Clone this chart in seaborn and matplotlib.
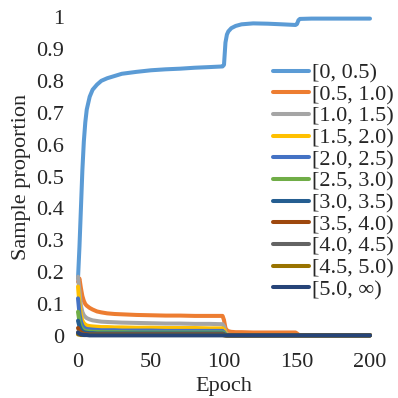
import seaborn as sns
import pandas as pd
import matplotlib.pyplot as plt

epochs = [0, 1, 2, 3, 4, 5, 6, 8, 10, 13, 16, 20, 25, 30, 40, 50, 60, 70, 80, 90, 99,
          100, 101, 102, 103, 105, 108, 112, 120, 130, 140, 149, 150, 151, 152, 160, 180, 200]

labels = ['[0, 0.5)', '[0.5, 1.0)', '[1.0, 1.5)', '[1.5, 2.0)', '[2.0, 2.5)', '[2.5, 3.0)',
          '[3.0, 3.5)', '[3.5, 4.0)', '[4.0, 4.5)', '[4.5, 5.0)', '[5.0, \u221e)']

r0 = [0.18, 0.28, 0.40, 0.52, 0.61, 0.67, 0.71, 0.75, 0.772, 0.788, 0.80, 0.808, 0.815, 0.822,
      0.828, 0.833, 0.836, 0.838, 0.841, 0.843, 0.845, 0.85, 0.92, 0.945, 0.955, 0.965, 0.972, 0.977,
      0.98, 0.979, 0.977, 0.975, 0.978, 0.99, 0.994, 0.995, 0.995, 0.995]
r1 = [0.17, 0.18, 0.15, 0.125, 0.11, 0.10, 0.095, 0.088, 0.083, 0.077, 0.074, 0.071, 0.069, 0.068,
      0.066, 0.065, 0.064, 0.064, 0.063, 0.063, 0.063, 0.05, 0.025, 0.018, 0.015, 0.013, 0.012, 0.012,
      0.011, 0.011, 0.011, 0.011, 0.008, 0.004, 0.003, 0.003, 0.003, 0.003]
r2 = [0.186, 0.14, 0.095, 0.075, 0.065, 0.06, 0.056, 0.052, 0.049, 0.047, 0.045, 0.044, 0.043, 0.042,
      0.041, 0.040, 0.039, 0.039, 0.038, 0.038, 0.037, 0.03, 0.012, 0.006, 0.004, 0.003, 0.003, 0.003,
      0.003, 0.003, 0.003, 0.003, 0.002, 0.002, 0.002, 0.002, 0.002, 0.002]
r3 = [0.155, 0.10, 0.065, 0.048, 0.04, 0.036, 0.033, 0.031, 0.030, 0.029, 0.028, 0.028, 0.027, 0.027,
      0.026, 0.026, 0.025, 0.025, 0.025, 0.024, 0.024, 0.02, 0.008, 0.004, 0.003, 0.002, 0.002, 0.002] + [0.002] * 10
r4 = [0.118, 0.07, 0.045, 0.033, 0.027, 0.024, 0.022, 0.021, 0.020, 0.019, 0.018, 0.018, 0.018, 0.017,
      0.017, 0.017, 0.016, 0.016, 0.016, 0.016, 0.016, 0.012, 0.005, 0.003, 0.002, 0.002, 0.002, 0.002] + [0.002] * 10
r5 = [0.076, 0.045, 0.03, 0.022, 0.018, 0.016, 0.015, 0.014, 0.013, 0.013, 0.012, 0.012, 0.012, 0.012,
      0.011, 0.011, 0.011, 0.011, 0.011, 0.011, 0.011, 0.009, 0.004, 0.002, 0.002, 0.002, 0.002, 0.002] + [0.002] * 10
r6 = [0.048, 0.03, 0.02, 0.015, 0.012, 0.011, 0.01, 0.009, 0.009, 0.008, 0.008, 0.008, 0.008, 0.008,
      0.008, 0.008, 0.008, 0.008, 0.008, 0.008, 0.008, 0.006, 0.003, 0.002, 0.002, 0.002, 0.002, 0.002] + [0.002] * 10
r7 = [0.025, 0.016, 0.011, 0.009, 0.007, 0.006, 0.006] + [0.005] * 14 + [0.004, 0.002] + [0.002] * 15
r8 = [0.012, 0.008, 0.006, 0.005, 0.004, 0.004, 0.004] + [0.004] * 14 + [0.003, 0.002] + [0.002] * 15
r9 = [0.005, 0.004, 0.003] + [0.003] * 18 + [0.002] * 17
r10 = [0.01, 0.007, 0.005, 0.004, 0.003, 0.003, 0.003] + [0.002] * 31

colors = ['#5B9BD5', '#ED7D31', '#A5A5A5', '#FFC000', '#4472C4', '#70AD47',
          '#255E91', '#9E480E', '#636363', '#997300', '#264478']

series = [r0, r1, r2, r3, r4, r5, r6, r7, r8, r9, r10]
rows = []
for lab, vals in zip(labels, series):
    for e, v in zip(epochs, vals):
        rows.append({'Epoch': e, 'Sample proportion': v, 'Range': lab})
df = pd.DataFrame(rows)

sns.set_style('white')
plt.rcParams['font.family'] = ['Liberation Serif', 'DejaVu Serif']
plt.rcParams['font.size'] = 16

fig = plt.figure(figsize=(3.98, 3.98), dpi=100)
ax = fig.add_axes([78 / 398, 62 / 398, 292 / 398, 319 / 398])
sns.lineplot(data=df, x='Epoch', y='Sample proportion', hue='Range', hue_order=labels,
             palette=colors, linewidth=2.9, ax=ax, clip_on=False)

ax.set_xlim(0, 200)
ax.set_ylim(0, 1)
ax.set_xticks([0, 50, 100, 150, 200])
ax.set_yticks([0, 0.1, 0.2, 0.3, 0.4, 0.5, 0.6, 0.7, 0.8, 0.9, 1])
ax.set_yticklabels(['0', '0.1', '0.2', '0.3', '0.4', '0.5', '0.6', '0.7', '0.8', '0.9', '1'])
ax.tick_params(axis='both', length=0, labelsize=16)
ax.tick_params(axis='y', pad=10)
ax.tick_params(axis='x', pad=12)
for s in ax.spines.values():
    s.set_visible(False)
ax.set_xlabel('Epoch', fontsize=16, labelpad=4)
ax.set_ylabel('Sample proportion', fontsize=16, labelpad=4)

handles, labs = ax.get_legend_handles_labels()
ax.legend(handles, labs, loc='upper left', bbox_to_anchor=(273 / 398, 335 / 398),
          bbox_transform=fig.transFigure, frameon=False, fontsize=16,
          handlelength=1.6, handletextpad=0.15, labelspacing=0.05, borderpad=0, borderaxespad=0)

plt.savefig('out.png', dpi=100)
